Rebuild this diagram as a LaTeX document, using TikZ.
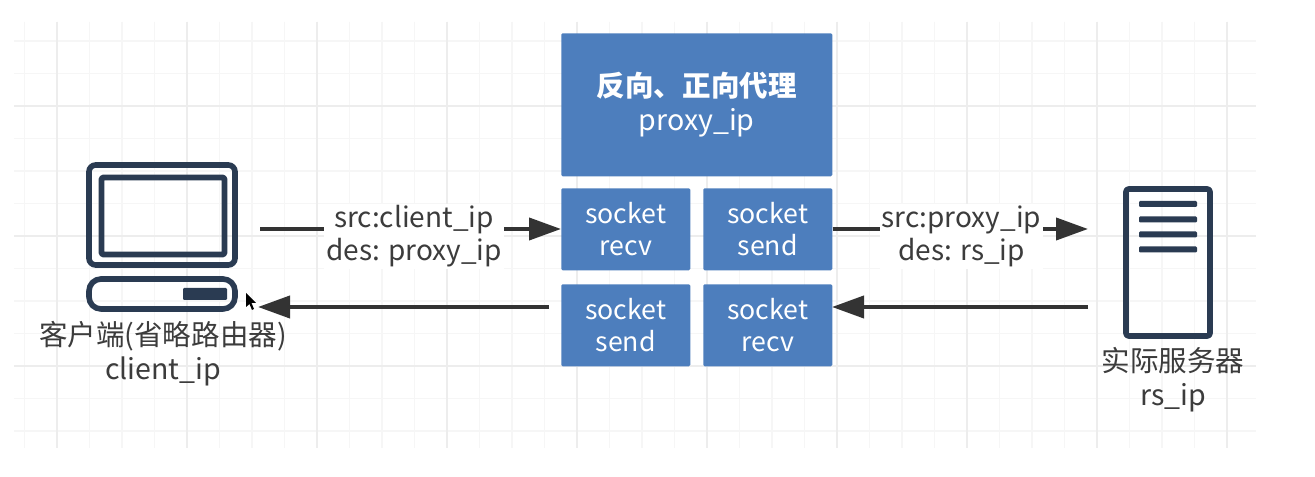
\documentclass[tikz,border=0pt]{standalone}
\usepackage{fontspec}
\setmainfont{Noto Sans CJK SC}
\usetikzlibrary{arrows.meta}
\definecolor{boxblue}{HTML}{4D7EBD}
\definecolor{icon}{HTML}{2A3B52}
\definecolor{lbl}{HTML}{3C3C3C}
\definecolor{minorg}{HTML}{F6F6F6}
\definecolor{majorg}{HTML}{EDEDED}
\definecolor{arrowc}{HTML}{333333}
\tikzset{
 px/.style={x=0.75pt,y=-0.75pt},
 minorline/.style={draw=minorg,line width=1pt},
 majorline/.style={draw=majorg,line width=1pt},
 bluebox/.style={fill=boxblue,draw=none,rounded corners=1pt,text=white,align=center,anchor=north west,inner sep=0pt,font=\fontsize{20pt}{24pt}\selectfont},
 titlebox/.style={bluebox,font=\fontsize{21.4pt}{25.5pt}\selectfont},
 iconline/.style={draw=icon,line width=4.2pt,line join=round,rounded corners=5pt},
 bar/.style={fill=icon,draw=none,rounded corners=0.8pt},
 flow/.style={draw=arrowc,line width=3pt,-{Triangle[length=24pt,width=16.5pt]}},
 lab/.style={fill=white,text=lbl,align=center,inner sep=1.5pt,font=\fontsize{21pt}{24.75pt}\selectfont},
 captxt/.style={text=lbl,align=center,inner sep=0pt,font=\fontsize{21.4pt}{25.5pt}\selectfont},
}
\begin{document}
\begin{tikzpicture}[px]
\useasboundingbox[fill=white] (0,0) rectangle (1315,477);
% grid
\foreach \i in {0,...,37}{\draw[minorline] ({24.5+32.5*\i},22) -- ({24.5+32.5*\i},448);}
\foreach \i in {0,...,12}{\draw[minorline] (14,{41+32.5*\i}) -- (1256,{41+32.5*\i});}
\foreach \i in {0,...,9}{\draw[majorline] ({57+130*\i},22) -- ({57+130*\i},448);}
\foreach \i in {0,...,2}{\draw[majorline] (14,{106+130*\i}) -- (1256,{106+130*\i});}
% proxy boxes
\node[titlebox,minimum width=203.25pt,minimum height=107.25pt] (proxy) at (561,33) {\textbf{反向、正向代理}\\proxy\_ip};
\node[bluebox,minimum width=96.75pt,minimum height=61.5pt] (recvA) at (561,188) {socket\\recv};
\node[bluebox,minimum width=96.75pt,minimum height=61.5pt] (sendA) at (703,188) {socket\\send};
\node[bluebox,minimum width=96.75pt,minimum height=61.5pt] (sendB) at (561,284) {socket\\send};
\node[bluebox,minimum width=96.75pt,minimum height=61.5pt] (recvB) at (703,284) {socket\\recv};
% client
\draw[iconline] (89,165) rectangle (235,265);
\draw[iconline,rounded corners=1pt] (101.5,177.5) rectangle (224.5,254.5);
\draw[iconline,rounded corners=9pt] (89,279) rectangle (235,309);
\fill[bar] (183,288) rectangle (227,300);
\node[captxt] (client) at (163,354) {客户端(省略路由器)\\client\_ip};
% server
\draw[iconline,rounded corners=2pt] (1126,189) rectangle (1210,336);
\foreach \y in {204,219.5,234.5,249.5}{\fill[bar] (1139,\y-3) rectangle (1197,\y+3);}
\node[captxt] (server) at (1173,380) {实际服务器\\rs\_ip};
% connector ends
\coordinate (cOut) at (260,229);
\coordinate (cIn) at (258,307);
\coordinate (sIn) at (1088,229);
\coordinate (sOut) at (1088,307);
\coordinate (pOut) at (549,307);
\coordinate (pIn) at (832,307);
\draw[flow] (cOut) -- (recvA.west |- cOut);
\draw[flow] (sendA.east |- sIn) -- (sIn);
\draw[flow] (pOut) -- (cIn);
\draw[flow] (sOut) -- (pIn);
\node[lab] (l1) at (414,236.5) {src:client\_ip\\des: proxy\_ip};
\node[lab] (l2) at (961.5,236.5) {src:proxy\_ip\\des: rs\_ip};
% cursor
\fill[black] (246,293) -- (246,307) -- (249.5,304) -- (252,310) -- (254,309) -- (251.5,303) -- (256,303) -- cycle;
\end{tikzpicture}
\end{document}
